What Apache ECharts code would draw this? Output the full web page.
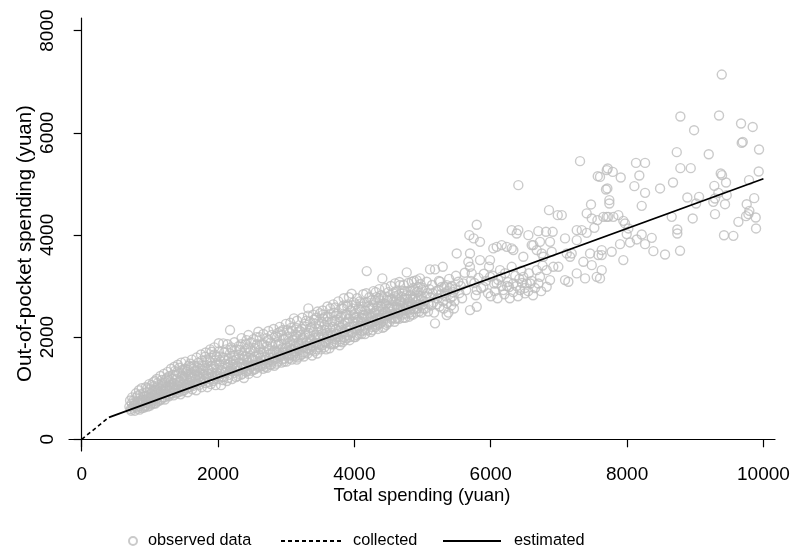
<!DOCTYPE html>
<html>
<head>
<meta charset="utf-8">
<script src="https://cdn.jsdelivr.net/npm/echarts@6/dist/echarts.min.js"></script>
<style>
  html, body { margin: 0; padding: 0; background: #fff; }
  #chart { width: 793px; height: 550px; }
</style>
</head>
<body>
<div id="chart"></div>
<script>
// Observed households: [total spending, out-of-pocket spending] in yuan
const observedData = [
  [700,640],[720,590],[735,700],[750,620],[760,760],[780,560],[790,680],[805,820],[820,600],[830,720],
  [845,650],[860,880],[870,760],[885,610],[900,700],[910,840],[925,660],[935,780],[950,920],[960,720],
  [970,640],[985,860],[995,760],[1000,980],
  [1010,690],[1020,820],[1035,940],[1045,740],[1060,1040],[1070,860],[1080,700],[1095,960],[1105,800],
  [1115,1100],[1125,880],[1140,760],[1150,1000],[1160,900],[1175,1160],[1185,820],[1195,940],[1210,1060],
  [1220,780],[1230,980],[1245,880],[1255,1200],[1265,1040],[1280,840],[1290,960],
  [1300,1120],[1315,900],[1325,1010],[1340,1260],[1350,860],[1365,1080],[1375,960],[1390,1180],[1400,1320],
  [1415,920],[1425,1040],[1440,1140],[1450,880],[1465,1000],[1475,1240],[1490,1100],[1500,960],[1515,1380],
  [1530,1060],[1540,1180],[1555,920],[1565,1280],[1580,1020],[1590,1140],
  [1605,1420],[1620,980],[1630,1220],[1645,1080],[1655,1340],[1670,1160],[1680,960],[1695,1260],[1710,1500],
  [1720,1060],[1735,1180],[1745,1380],[1760,1020],[1775,1280],[1785,1140],[1800,1440],[1809,1616],[1815,1100],
  [1830,1240],[1845,1020],[1855,1360],[1870,1180],[1880,1520],[1895,1080],[1907,1713],[1910,1300],[1925,1140],
  [1940,1420],[1955,1240],[1965,1060],[1980,1616],[1990,1360],
  [2005,1180],[2020,1480],[2035,1280],[2045,1060],[2060,1400],[2077,1878],[2085,1220],[2100,1560],[2115,1320],
  [2130,1140],[2145,1460],[2160,1260],[2176,2138],[2176,1682],[2190,1380],[2205,1180],[2220,1540],[2235,1300],
  [2250,1640],[2265,1220],[2280,1440],[2295,1340],[2310,1580],[2322,1747],[2335,1260],[2350,1480],[2365,1380],
  [2380,1200],[2395,1620],[2410,1320],[2420,1942],[2435,1500],[2450,1280],[2465,1700],[2480,1420],[2495,1340],
  [2510,1580],[2525,1360],[2540,1780],[2555,1460],[2570,1300],[2591,2105],[2600,1660],[2615,1420],[2630,1540],
  [2645,1860],[2660,1380],[2675,1720],[2690,1480],[2705,1600],[2720,1400],[2735,1940],[2750,1540],[2765,1680],
  [2780,1460],[2795,1820],[2810,1600],[2825,1440],[2840,2020],[2855,1720],[2870,1520],[2885,1860],[2909,2105],
  [2915,1640],[2930,1500],[2945,1780],[2960,1960],[2975,1580],[2990,1700],
  [3005,1520],[3020,1880],[3035,1640],[3050,2080],[3065,1760],[3080,1560],[3095,1940],[3114,2367],[3120,1680],
  [3135,1820],[3150,2180],[3165,1600],[3180,1900],[3195,1740],[3210,2040],[3225,1660],[3240,1980],[3255,1800],
  [3270,2260],[3285,1700],[3300,1900],[3325,2562],[3330,2080],[3345,1760],[3360,1960],[3375,2200],[3390,1840],
  [3405,2340],[3420,1720],[3435,2040],[3450,1880],[3465,2160],[3480,1800],[3496,2464],[3500,1980],
  [3515,2120],[3530,1840],[3544,2367],[3550,2000],[3565,2240],[3580,1900],[3595,2080],[3610,2400],[3625,1960],
  [3640,2180],[3655,1860],[3670,2300],[3685,2040],[3700,2480],[3715,1960],[3730,2160],[3745,2340],[3760,2000],
  [3775,2220],[3790,1920],[3805,2420],[3820,2100],[3835,2560],[3850,2000],[3865,2280],[3880,2160],[3895,2600],
  [3910,2040],[3925,2360],[3940,2200],[3960,2850],[3970,2080],[3985,2440],
  [4000,2260],[4015,2000],[4030,2380],[4045,2140],[4060,2560],[4083,2529],[4090,2220],[4105,2060],[4120,2440],
  [4135,2300],[4150,2680],[4165,2160],[4181,3292],[4195,2400],[4210,2240],[4230,2562],[4240,2100],[4255,2460],
  [4270,2320],[4285,2680],[4303,2725],[4310,2200],[4325,2520],[4340,2380],[4355,2760],[4370,2260],[4385,2600],
  [4400,2420],[4410,3149],[4425,2320],[4440,2660],[4455,2500],[4474,2725],[4480,2280],[4495,2560],
  [4510,2420],[4525,2740],[4540,2360],[4555,2600],[4570,2860],[4596,3051],[4600,2480],[4615,2700],[4630,2380],
  [4645,2820],[4669,3018],[4675,2560],[4694,2789],[4705,2440],[4720,2660],[4735,2900],[4750,2520],[4768,3267],
  [4780,2740],[4795,2600],[4810,2480],[4825,2820],[4841,3083],[4850,2640],[4865,2960],[4880,2560],[4895,2760],
  [4914,3116],[4920,2880],[4935,2640],[4950,2500],[4963,3149],[4975,2800],[4990,2620],
  [5010,2960],[5025,2700],[5040,2560],[5061,3083],[5070,2860],[5090,2640],[5110,3325],[5120,2780],[5140,3020],
  [5160,2680],[5183,3325],[5183,2269],[5200,2900],[5220,2760],[5240,3100],[5256,3083],[5270,2840],[5296,3376],
  [5300,2700],[5320,2980],[5340,2800],[5354,3018],[5354,2431],[5370,2900],[5390,3140],[5410,2760],[5430,3000],
  [5450,2880],[5470,2700],[5490,3200],[5501,3638],
  [5525,3083],[5540,2860],[5560,3000],[5580,2760],[5598,3051],[5620,3260],[5640,2920],[5672,3474],[5686,3996],
  [5696,3376],[5696,2529],[5696,3638],[5710,3100],[5721,3247],[5750,3932],[5795,4200],[5795,2594],[5795,2920],
  [5760,3060],[5780,2820],[5843,3865],[5843,3507],[5820,3160],[5860,2960],[5892,2985],[5900,3240],[5930,3100],
  [5960,2860],[5990,3507],[5990,3180],[5975,3380],
  [6000,2800],[6038,3736],[6050,3050],[6088,3767],[6088,3051],[6100,2760],[6136,3311],[6150,3180],[6161,3801],
  [6185,2920],[6200,2840],[6235,3767],[6240,3000],[6280,2760],[6308,3736],[6308,3376],[6332,3703],[6332,3051],
  [6308,4094],[6330,2880],[6381,4029],[6400,2800],[6405,4094],[6405,4974],[6420,3140],[6430,2920],[6478,3572],
  [6478,3180],[6503,2856],[6030,3200],[6060,2900],[6110,3120],[6160,3000],[6210,3250],[6250,3080],[6270,2980],
  [6360,3200],[6380,3000],[6450,3300],[6460,3060],[6500,2960],
  [6528,3051],[6550,2900],[6552,3996],[6580,3050],[6601,3801],[6620,2820],[6625,3801],[6675,3703],[6675,3311],
  [6698,4074],[6700,3050],[6723,3865],[6723,3180],[6740,2900],[6748,3638],[6772,3572],[6811,4061],[6821,3311],
  [6821,2985],[6855,4485],[6870,3865],[6870,3116],[6895,3670],[6909,4061],[6918,3376],[6983,4387],[6992,3376],
  [6560,3250],[6600,3100],[6650,2960],[6760,3400],
  [7042,4387],[7090,3932],[7090,3116],[7115,3638],[7139,3083],[7164,3572],[7188,3638],[7262,4094],[7262,3898],
  [7262,3247],[7310,5444],[7335,4094],[7359,3474],[7384,3149],[7408,4041],[7408,4421],[7457,3638],[7471,4597],
  [7482,4323],[7482,3409],[7520,4139],[7565,4290],[7555,3180],[7570,5150],[7579,3605],
  [7603,5136],[7603,3149],[7628,3703],[7628,3605],[7628,3311],[7652,4354],[7691,4890],[7702,5268],[7702,4354],
  [7711,4910],[7716,5300],[7740,4681],[7740,4616],[7725,4354],[7775,3670],[7790,5234],[7799,4354],[7872,4387],
  [7897,3820],[7907,5125],[7945,4276],[7945,3507],[7970,4225],[7995,4016],
  [8019,4127],[8043,3853],[8107,4955],[8131,5410],[8142,3912],[8180,5164],[8215,4569],[8215,4009],[8264,5410],
  [8264,4824],[8264,3820],[8362,3943],[8386,3683],[8484,4910],
  [8557,3618],[8655,4354],[8674,5027],[8729,5620],[8737,4107],[8737,4029],[8777,3689],[8782,6318],[8782,5307],
  [8884,4733],[8934,5307],[8963,4323],[8983,6050],
  [9012,4616],[9056,4745],[9198,5580],[9265,4648],[9280,4961],[9290,4714],[9290,4407],[9339,4824],[9349,6337],
  [9374,5203],[9389,7139],[9393,5170],[9422,3993],[9437,4602],[9452,5027],[9462,4779],[9559,3982],[9633,4256],
  [9672,6181],[9682,5801],[9697,5820],[9745,4368],[9755,4602],[9780,4407],[9789,5072],[9794,4471],[9843,6114],
  [9865,4720],[9887,4342],[9892,4127],[9931,5242],[9936,5672],
  // second pass through the dense band
  [710,760],[740,820],[765,660],[795,900],[815,740],[840,960],[855,700],[880,1000],[895,780],[915,620],
  [940,1020],[955,840],[975,700],[990,1080],[1015,900],[1030,760],[1050,1120],[1065,960],[1085,820],[1100,1180],
  [1120,980],[1135,860],[1155,1240],[1170,1040],[1190,880],[1205,1280],[1225,1120],[1240,960],[1260,1320],
  [1275,1160],[1295,1020],[1310,1380],[1330,1180],[1345,1000],[1360,1420],[1380,1260],[1395,1060],[1410,1460],
  [1430,1300],[1445,1120],[1460,1500],[1480,1360],[1495,1180],
  [1520,1520],[1535,1320],[1550,1060],[1570,1440],[1585,1220],[1600,1060],[1615,1560],[1640,1380],[1660,1120],
  [1685,1600],[1700,1340],[1725,1220],[1750,1660],[1770,1440],[1790,1260],[1820,1700],[1840,1500],[1860,1280],
  [1885,1760],[1900,1440],[1920,1240],[1945,1800],[1960,1540],[1985,1300],[2010,1880],[2030,1620],[2050,1360],
  [2070,1160],[2090,1700],[2110,1480],[2140,1860],[2155,1580],[2170,1340],[2200,1760],[2215,1460],[2240,1900],
  [2260,1560],[2275,1340],[2300,1820],[2320,1500],[2345,1980],[2360,1640],[2375,1420],[2400,1860],[2425,1560],
  [2445,2040],[2460,1380],[2475,1760],[2490,1560],
  [2520,1960],[2535,1620],[2550,1380],[2575,1860],[2590,1520],[2610,2000],[2625,1760],[2640,1480],[2665,2060],
  [2680,1620],[2700,1420],[2715,1820],[2740,2120],[2755,1600],[2775,1900],[2790,1520],[2815,2160],[2830,1740],
  [2850,1580],[2865,2000],[2890,1660],[2905,2200],[2925,1860],[2940,1560],[2955,2140],[2980,1780],[2995,2260],
  [3010,1660],[3030,2000],[3045,1800],[3060,2280],[3075,1680],[3090,2120],[3110,1860],[3130,1620],[3145,2040],
  [3160,2320],[3175,1780],[3200,2120],[3220,1880],[3235,2380],[3250,1700],[3265,2000],[3290,2200],[3310,1780],
  [3320,2420],[3340,1880],[3355,2180],[3370,1740],[3395,2440],[3410,1980],[3430,2260],[3445,1760],[3460,2500],
  [3475,2040],[3490,1860],
  [3520,2300],[3535,2520],[3560,1800],[3575,2400],[3590,2180],[3605,2600],[3620,1880],[3650,2460],[3665,2080],
  [3690,2640],[3705,1880],[3725,2420],[3740,2060],[3765,2700],[3780,2300],[3800,1960],[3815,2560],[3830,2240],
  [3845,2760],[3860,1940],[3885,2440],[3900,2300],[3920,2780],[3935,2000],[3950,2520],[3975,2300],[3990,2680],
  [4010,2460],[4025,2160],[4040,2760],[4055,2340],[4070,2060],[4095,2660],[4110,2380],[4130,2840],[4145,2140],
  [4160,2520],[4175,2860],[4190,2260],[4205,2600],[4220,2780],[4245,2380],[4260,2200],[4280,2900],[4295,2480],
  [4320,2780],[4335,2240],[4350,2600],[4365,2940],[4380,2380],[4395,2820],[4420,2540],[4435,2200],[4450,2960],
  [4465,2420],[4490,2780],
  [4520,2560],[4535,3000],[4560,2460],[4575,2700],[4590,2300],[4610,2900],[4625,2580],[4650,2460],[4660,3080],
  [4685,2700],[4710,2580],[4725,3020],[4745,2380],[4760,2820],[4790,3060],[4800,2700],[4820,2540],[4845,2900],
  [4860,2440],[4875,3100],[4890,2680],[4910,2560],[4930,2980],[4945,2760],[4970,3040],[4985,2480],
  // third pass, lower half of the band
  [725,560],[770,700],[800,630],[825,860],[850,580],[875,720],[905,900],[930,640],[945,760],[965,1000],
  [980,800],[1005,660],[1025,1060],[1040,850],[1055,700],[1075,1140],[1090,900],[1110,740],[1130,1060],[1145,920],
  [1165,780],[1180,1100],[1200,960],[1215,820],[1235,1180],[1250,1000],[1270,860],[1285,1240],[1305,1060],
  [1320,900],[1335,1100],[1355,960],[1370,1340],[1385,900],[1405,1120],[1420,980],[1435,1400],[1455,1060],
  [1470,940],[1485,1300],[1505,1040],
  [1525,1240],[1545,1000],[1560,1360],[1575,1100],[1595,1480],[1610,1200],[1625,1040],[1650,1440],[1665,1240],
  [1690,1080],[1705,1400],[1730,1300],[1755,1120],[1765,1540],[1780,1340],[1805,1180],[1825,1560],[1850,1380],
  [1865,1120],[1890,1600],[1915,1380],[1930,1180],[1950,1660],[1970,1460],[1995,1240],[2015,1720],[2040,1520],
  [2055,1220],[2080,1600],[2095,1300],[2120,1760],[2135,1400],[2150,1200],[2180,1500],[2195,1800],[2210,1340],
  [2230,1640],[2245,1420],[2270,1760],[2290,1240],[2305,1660],[2330,1400],[2340,1860],[2355,1280],[2370,1560],
  [2390,1740],[2405,1440],[2430,1340],[2440,1800],[2455,1600],[2485,1900],
  [2505,1460],[2530,1720],[2545,1540],[2565,2000],[2580,1420],[2605,1800],[2620,1600],[2650,1440],[2670,1860],
  [2685,1560],[2710,1980],[2725,1500],[2745,1760],[2760,1460],[2785,2040],[2800,1700],[2820,1560],[2845,1880],
  [2860,1480],[2880,2080],[2895,1760],[2920,1620],[2935,2040],[2950,1700],[2970,1520],[2985,1960],[3000,1800],
  [3015,2140],[3040,1580],[3055,1900],[3070,2180],[3085,1760],[3100,1640],[3125,2000],[3140,1720],[3155,1560],
  [3170,2100],[3190,1840],[3205,1640],[3230,2160],[3245,1940],[3260,1620],[3280,2060],[3295,2320],[3315,1680],
  [3335,2000],[3350,2300],[3365,1820],[3380,1640],[3400,2100],[3415,1880],[3440,2380],[3455,1680],[3470,2000],
  [3485,2260],
  [3510,1760],[3525,2060],[3540,2440],[3555,1900],[3570,2140],[3585,1760],[3600,2300],[3615,2040],[3635,1780],
  [3645,2560],[3660,1980],[3680,2200],[3695,1860],[3710,2320],[3720,2580],[3735,1900],[3750,2460],[3770,2120],
  [3785,1840],[3795,2380],[3810,2180],[3825,1900],[3840,2620],[3855,2100],[3870,2440],[3890,1980],[3905,2640],
  [3915,2200],[3930,1940],[3945,2420],[3965,2100],[3980,2560],[3995,2000],[4005,2380],[4020,2640],[4035,2040],
  [4050,2300],[4065,2180],[4080,2700],[4100,2300],[4115,2120],[4125,2600],[4140,2420],[4155,2060],[4170,2380],
  [4185,2680],[4200,2140],[4215,2460],[4235,2300],[4250,2720],[4265,2140],[4275,2580],[4290,2300],[4305,2460],
  [4315,2880],[4330,2340],[4345,2160],[4360,2500],[4375,2720],[4390,2280],[4405,2620],[4415,2180],[4430,2760],
  [4445,2380],[4460,2640],[4470,2240],[4485,2440],[4500,2880],[4515,2300],[4530,2500],[4545,2740],[4565,2380],
  [4580,2560],[4595,2800],[4605,2360],[4620,2760],[4640,2560],[4655,2360],[4665,2700],[4680,2500],[4700,2900],
  [4715,2380],[4730,2560],[4740,2760],[4755,2460],[4775,2620],[4785,2900],[4805,2400],[4815,2680],[4830,2440],
  [4855,2760],[4870,2560],[4885,2900],[4900,2480],[4915,2700],[4925,2560],[4940,2900],[4955,2640],[4980,2720],
  [4995,2920],
  [5015,2560],[5050,2800],[5080,2500],[5100,2940],[5130,2620],[5150,2860],[5170,2480],[5210,2640],[5230,2920],
  [5250,2600],[5280,2980],[5310,2560],[5330,2860],[5360,2660],[5380,2480],[5400,2960],[5420,2620],[5440,2800],
  [5460,2560],[5480,2940]
];

// Spending schedule: collected segment and estimated segment
const collectedLine = [[0, 0], [400, 430]];
const estimatedLine = [[400, 430], [10000, 5100]];

const xTicks = [0, 2000, 4000, 6000, 8000, 10000];
const yTicks = [0, 2000, 4000, 6000, 8000];

const seriesNames = ['observed data', 'collected', 'estimated'];

const FONT = '"Liberation Sans", Arial, Helvetica, sans-serif';
const chart = echarts.init(document.getElementById('chart'), null, { renderer: 'canvas' });

const legendText = { fontFamily: FONT, fontSize: 16.3, color: '#000' };
const legendBase = {
  orient: 'horizontal',
  top: 533,
  padding: 0,
  itemHeight: 14,
  selectedMode: false
};

chart.setOption({
  animation: false,
  backgroundColor: '#fff',
  grid: { left: 69, right: 18, top: 18, bottom: 99, containLabel: false },
  legend: [
    Object.assign({}, legendBase, {
      data: [seriesNames[0]], left: 128, itemWidth: 20, itemHeight: 8, top: 533,
      textStyle: legendText
    }),
    Object.assign({}, legendBase, {
      data: [seriesNames[1]], left: 280, itemWidth: 60,
      itemStyle: { opacity: 0 },
      textStyle: Object.assign({ padding: [2, 0, 0, 7] }, legendText)
    }),
    Object.assign({}, legendBase, {
      data: [seriesNames[2]], left: 442, itemWidth: 58,
      itemStyle: { opacity: 0 },
      textStyle: Object.assign({ padding: [2, 0, 0, 8] }, legendText)
    })
  ],
  xAxis: {
    type: 'value',
    min: -186,
    max: 10170,
    name: 'Total spending (yuan)',
    nameLocation: 'middle',
    nameGap: 35,
    nameMoveOverlap: false,
    nameTextStyle: { fontFamily: FONT, fontSize: 18.5, color: '#000' },
    axisLine: { show: true, lineStyle: { color: '#000', width: 1.2 } },
    axisTick: { show: true, length: 8, customValues: xTicks, lineStyle: { color: '#000', width: 1.2 } },
    axisLabel: {
      customValues: xTicks, margin: 14, fontFamily: FONT, fontSize: 19, color: '#000',
      formatter: v => String(v)
    },
    splitLine: { show: false }
  },
  yAxis: {
    type: 'value',
    min: -229,
    max: 8246,
    name: 'Out-of-pocket spending (yuan)',
    nameLocation: 'middle',
    nameGap: 33,
    nameMoveOverlap: false,
    nameTextStyle: { fontFamily: FONT, fontSize: 20.5, color: '#000', padding: [0, 18, 0, 0] },
    axisLine: { show: true, lineStyle: { color: '#000', width: 1.2 } },
    axisTick: { show: true, length: 8, customValues: yTicks, lineStyle: { color: '#000', width: 1.2 } },
    axisLabel: {
      customValues: yTicks, rotate: 90, margin: 12, fontFamily: FONT, fontSize: 19, color: '#000',
      formatter: v => String(v)
    },
    splitLine: { show: false }
  },
  series: [
    {
      name: seriesNames[0],
      type: 'scatter',
      data: observedData,
      symbol: 'circle',
      symbolSize: 9,
      itemStyle: { color: 'rgba(0,0,0,0)', borderColor: '#bdbdbd', borderWidth: 1.4 },
      z: 2
    },
    {
      name: seriesNames[1],
      type: 'line',
      data: collectedLine,
      symbol: 'none',
      itemStyle: { color: '#000' },
      lineStyle: { color: '#000', width: 1.6, type: [4, 3] },
      z: 3
    },
    {
      name: seriesNames[2],
      type: 'line',
      data: estimatedLine,
      symbol: 'none',
      itemStyle: { color: '#000' },
      lineStyle: { color: '#000', width: 1.8 },
      z: 3
    }
  ]
});
</script>
</body>
</html>
